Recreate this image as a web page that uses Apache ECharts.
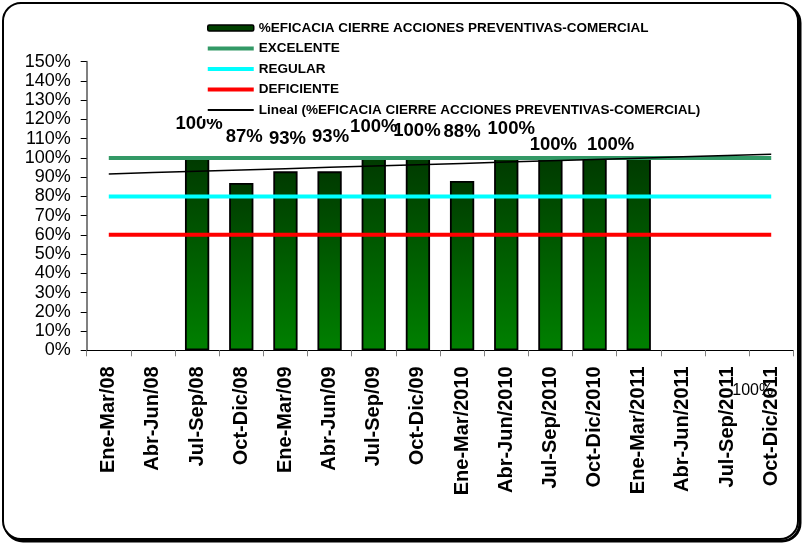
<!DOCTYPE html>
<html>
<head>
<meta charset="utf-8">
<script src="https://cdn.jsdelivr.net/npm/echarts@6/dist/echarts.min.js"></script>
<style>
html,body{margin:0;padding:0;background:#fff;}
#chart{width:803px;height:544px;}
</style>
</head>
<body>
<div id="chart"></div>
<script>
var categories = ['Ene-Mar/08','Abr-Jun/08','Jul-Sep/08','Oct-Dic/08','Ene-Mar/09','Abr-Jun/09','Jul-Sep/09','Oct-Dic/09','Ene-Mar/2010','Abr-Jun/2010','Jul-Sep/2010','Oct-Dic/2010','Ene-Mar/2011','Abr-Jun/2011','Jul-Sep/2011','Oct-Dic/2011'];
var eficacia = [null, null, 100, 87, 93, 93, 100, 100, 88, 100, 100, 100, 100, null, null, null];
var excelente = [100,100,100,100,100,100,100,100,100,100,100,100,100,100,100,100];
var regular = [80,80,80,80,80,80,80,80,80,80,80,80,80,80,80,80];
var deficiente = [60,60,60,60,60,60,60,60,60,60,60,60,60,60,60,60];
var yTicks = [0,10,20,30,40,50,60,70,80,90,100,110,120,130,140,150];

var S0 = '%EFICACIA CIERRE ACCIONES PREVENTIVAS-COMERCIAL';
var TREND = 'Lineal (%EFICACIA CIERRE ACCIONES PREVENTIVAS-COMERCIAL)';

// label placement styles (as in the reference, labels were moved by hand)
var labelShift = [null,null,[2,-19],[3,-32],[2,-18],[1,-20],[0,-16],[-1,-12],[0,-35],[5,-14],[3,2],[16,2],[114,246],null,null,null];

// linear trend (least squares) computed from the measured series
function trendLine(vals){
  var xs=[], ys=[];
  vals.forEach(function(v,i){ if(v!=null){ xs.push(i); ys.push(v);} });
  var n=xs.length, mx=0, my=0;
  for(var i=0;i<n;i++){mx+=xs[i];my+=ys[i];}
  mx/=n; my/=n;
  var sxy=0,sxx=0;
  for(var i=0;i<n;i++){sxy+=(xs[i]-mx)*(ys[i]-my);sxx+=(xs[i]-mx)*(xs[i]-mx);}
  var b=sxy/sxx, a=my-b*mx;
  return vals.map(function(_,i){return a+b*i;});
}

var FF = '"Liberation Sans", Arial, sans-serif';
var thickIcon = 'path://M0,0 L46,0 L46,4 L0,4 Z';
var thinIcon = 'path://M0,0 L46,0 L46,1.8 L0,1.8 Z';

var barData = eficacia.map(function(v,i){
  if(v==null) return '-';
  var lbl = {offset: labelShift[i]};
  if(i===12){ lbl.fontSize = 16; lbl.fontWeight = 'normal'; }
  return {value:v, label:lbl};
});

var chart = echarts.init(document.getElementById('chart'), null, {renderer:'canvas'});
chart.setOption({
  animation:false,
  backgroundColor:'#fff',
  textStyle:{fontFamily:FF},
  graphic:[
    {type:'rect', z:-10, shape:{x:5,y:5,width:795,height:536,r:18}, style:{fill:'none',stroke:'#000',lineWidth:3}},
    {type:'rect', z:-9, shape:{x:3,y:3,width:795,height:536,r:18}, style:{fill:'#fff',stroke:'#000',lineWidth:2}}
  ],
  grid:{left:86.7, right:9.7, top:61.7, bottom:193.7, containLabel:false},
  legend:{
    orient:'vertical', left:202, top:16, padding:[5,10,2,5], backgroundColor:'#fff',
    itemWidth:46, itemHeight:6, itemGap:6.5, selectedMode:false,
    textStyle:{fontFamily:FF, fontSize:13.5, fontWeight:'bold', color:'#000', lineHeight:14},
    data:[
      {name:S0, itemStyle:{color:'#004000', borderColor:'#000', borderWidth:1.5}},
      {name:'EXCELENTE', icon:thickIcon, itemStyle:{color:'#339966'}},
      {name:'REGULAR', icon:thickIcon, itemStyle:{color:'#00ffff'}},
      {name:'DEFICIENTE', icon:thickIcon, itemStyle:{color:'#ff0000'}},
      {name:TREND, icon:thinIcon, itemStyle:{color:'#000'}}
    ]
  },
  xAxis:{
    type:'category', data:categories,
    axisLine:{lineStyle:{color:'#000', width:1}},
    axisTick:{show:true, length:6, lineStyle:{color:'#808080'}},
    axisLabel:{rotate:90, interval:0, margin:16, fontFamily:FF, fontSize:20, fontWeight:'bold', color:'#000'},
    splitLine:{show:false}
  },
  yAxis:{
    type:'value', min:yTicks[0], max:yTicks[yTicks.length-1], interval:yTicks[1]-yTicks[0],
    axisLine:{show:true, lineStyle:{color:'#808080', width:2}},
    axisTick:{show:true, length:6, lineStyle:{color:'#000'}},
    axisLabel:{formatter:'{value}%', margin:16, fontFamily:FF, fontSize:18, color:'#000'},
    splitLine:{show:false}
  },
  series:[
    {
      name:S0, type:'bar', data:barData, barWidth:'55%', z:2,
      itemStyle:{
        color:new echarts.graphic.LinearGradient(0,0,0,1,[{offset:0,color:'#003a00'},{offset:1,color:'#008000'}]),
        borderColor:'#000', borderWidth:1.8
      },
      label:{show:true, position:'top', formatter:'{c}%', fontFamily:FF, fontSize:18.5, fontWeight:'bold', color:'#000'}
    },
    {name:'EXCELENTE', type:'line', data:excelente, symbol:'none', z:3, lineStyle:{color:'#339966', width:4}, itemStyle:{color:'#339966'}},
    {name:'REGULAR', type:'line', data:regular, symbol:'none', z:3, lineStyle:{color:'#00ffff', width:4}, itemStyle:{color:'#00ffff'}},
    {name:'DEFICIENTE', type:'line', data:deficiente, symbol:'none', z:3, lineStyle:{color:'#ff0000', width:4}, itemStyle:{color:'#ff0000'}},
    {name:TREND, type:'line', data:trendLine(eficacia), symbol:'none', z:4, lineStyle:{color:'#000', width:1.5}, itemStyle:{color:'#000'}}
  ]
});
</script>
</body>
</html>
